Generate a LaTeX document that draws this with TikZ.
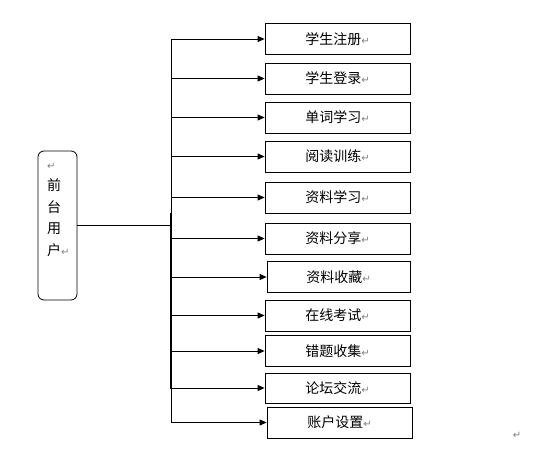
\documentclass[tikz,border=0pt]{standalone}
\usepackage{fontspec}
\newfontfamily\cjk{Noto Sans CJK SC}
\newfontfamily\dejavu{DejaVu Sans}
\usetikzlibrary{arrows.meta}
\definecolor{retgray}{RGB}{128,128,128}
\newcommand{\pmark}{{\dejavu\fontsize{10}{10}\selectfont\textcolor{retgray}{↵}}}
\tikzset{
  funcbox/.style={draw, line width=0.8pt, minimum width=145pt, minimum height=31pt, inner sep=0pt,
    font=\cjk\fontsize{14}{16}\selectfont},
  userbox/.style={draw, line width=0.8pt, rounded corners=6pt, minimum width=39pt, minimum height=149pt, inner sep=0pt},
  conn/.style={line width=0.9pt},
  arr/.style={line width=0.9pt, -{Triangle[length=7pt,width=6pt]}},
}
\begin{document}
\begin{tikzpicture}[x=1pt, y=-1pt]
\useasboundingbox (0,0) rectangle (545,450);
\node[userbox] (user) at (57.5,225.5) {};
\node[anchor=north west, align=left, inner sep=0pt, font=\cjk\fontsize{14}{21.5}\selectfont] (usertext) at (47,163) {\pmark\\前\\台\\用\\户\pmark};

\node[funcbox] (b1) at (337.5,39) {学生注册\pmark};
\node[funcbox] (b2) at (337.5,78.5) {学生登录\pmark};
\node[funcbox] (b3) at (337.5,117.5) {单词学习\pmark};
\node[funcbox] (b4) at (337.5,156.5) {阅读训练\pmark};
\node[funcbox] (b5) at (337.5,197.5) {资料学习\pmark};
\node[funcbox] (b6) at (337.5,238.5) {资料分享\pmark};
\node[funcbox, minimum width=143pt] (b7) at (338.5,277) {资料收藏\pmark};
\node[funcbox] (b8) at (337.5,315.5) {在线考试\pmark};
\node[funcbox] (b9) at (337.5,351) {错题收集\pmark};
\node[funcbox, minimum height=30pt] (b10) at (337.5,388) {论坛交流\pmark};
\node[funcbox] (b11) at (339.5,422.5) {账户设置\pmark};

\coordinate (trunk) at (171,0);
\coordinate (thickTop) at (171,213);
\coordinate (thickBot) at (171,389);

\draw[conn] (b1.west -| trunk) -- (b11.west -| trunk);
\draw[line width=2.6pt] (thickTop) -- (thickBot);
\draw[conn] (user.east) -- (user.east -| trunk);

\foreach \b in {b1,b2,b3,b4,b5,b6,b7,b8,b9,b10,b11}
  \draw[arr] (\b.west -| trunk) -- (\b.west);

\node[inner sep=0pt] (endmark) at (517,435) {\pmark};
\end{tikzpicture}
\end{document}
